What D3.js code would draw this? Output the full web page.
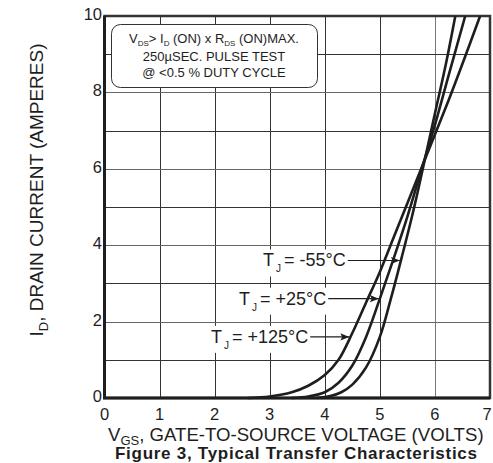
<!DOCTYPE html>
<html>
<head>
<meta charset="utf-8">
<script src="https://cdn.jsdelivr.net/npm/d3@7"></script>
<style>
  body { margin: 0; background: #fff; }
  svg { font-family: Arial, "Liberation Sans", Helvetica, sans-serif; }
</style>
</head>
<body>
<svg id="chart" width="493" height="463"></svg>
<script>
// transfer curves: [VGS (V), ID (A)]
const tjMinus55 = [[3.85,0],[4.1,0.05],[4.3,0.15],[4.5,0.35],[4.75,0.8],[5.0,1.6],[5.2,2.6],[5.4,3.7],[5.6,4.85],[5.78,6.0],[6.0,7.45],[6.2,8.75],[6.37,10]]
const tjPlus25 = [[3.4,0],[3.7,0.04],[4.0,0.15],[4.25,0.4],[4.5,0.85],[4.75,1.6],[5.0,2.6],[5.25,3.65],[5.5,4.75],[5.75,5.95],[6.0,7.15],[6.25,8.45],[6.55,10]]
const tjPlus125 = [[2.6,0],[3.0,0.04],[3.4,0.15],[3.7,0.32],[4.0,0.6],[4.25,1.0],[4.5,1.7],[4.75,2.5],[5.0,3.3],[5.25,4.2],[5.5,5.1],[5.75,6.0],[6.0,6.9],[6.25,7.8],[6.5,8.75],[6.82,10]]

const xTicks = [0, 1, 2, 3, 4, 5, 6, 7]
const yTicks = [0, 2, 4, 6, 8, 10]
const yGrid = [1, 2, 3, 4, 5, 6, 7, 8, 9]

// label text + the current where its arrow meets the curve
const curveLabels = [
  {temp: "-55°C", data: tjMinus55, at: 3.6, textX: 263},
  {temp: "+25°C", data: tjPlus25, at: 2.6, textX: 239},
  {temp: "+125°C", data: tjPlus125, at: 1.6, textX: 211}
]

const noteLines = ["250µSEC. PULSE TEST", "@ <0.5 % DUTY CYCLE"]

const svg = d3.select("#chart")
const ink = "#1e1e1e"

var x = d3.scaleLinear().domain([0, 7]).range([104.5, 490])
var y = d3.scaleLinear().domain([0, 10]).range([398, 16])

// grid
svg.append("g")
  .selectAll("line")
  .data(xTicks.slice(1, -1))
  .join("line")
    .attr("x1", d => Math.round(x(d)) + 0.5).attr("x2", d => Math.round(x(d)) + 0.5)
    .attr("y1", y(10)).attr("y2", y(0))
    .attr("stroke", d => d == 6 ? "#777" : "#333").attr("stroke-width", 1)

svg.append("g")
  .selectAll("line")
  .data(yGrid)
  .join("line")
    .attr("x1", x(0)).attr("x2", x(7))
    .attr("y1", d => Math.round(y(d)) + 0.5).attr("y2", d => Math.round(y(d)) + 0.5)
    .attr("stroke", d => d % 2 == 0 ? "#666" : "#333").attr("stroke-width", 1)

// frame
svg.append("rect")
  .attr("x", x(0)).attr("y", y(10))
  .attr("width", x(7) - x(0)).attr("height", y(0) - y(10))
  .attr("fill", "none").attr("stroke", "#333").attr("stroke-width", 2.5)
svg.append("path")
  .attr("d", `M${x(0)},${y(10)}V${y(0)}H${x(7)}`)
  .attr("fill", "none").attr("stroke", ink).attr("stroke-width", 3)

// tick labels (last one pulled in so it stays on the page)
svg.append("g")
  .selectAll("text")
  .data(xTicks)
  .join("text")
    .attr("x", d => Math.min(x(d), 487)).attr("y", 420)
    .attr("text-anchor", "middle").attr("font-size", 16.5).attr("fill", ink)
    .text(d => d)

svg.append("g")
  .selectAll("text")
  .data(yTicks)
  .join("text")
    .attr("x", 102).attr("y", d => y(d) + 4)
    .attr("text-anchor", "end").attr("font-size", 16.5).attr("fill", ink)
    .text(d => d)

// curves
const line = d3.line()
  .x(d => x(d[0])).y(d => y(d[1]))
  .curve(d3.curveCatmullRom.alpha(0.5))

svg.append("g")
  .selectAll("path")
  .data([tjMinus55, tjPlus25, tjPlus125])
  .join("path")
    .attr("d", line)
    .attr("fill", "none").attr("stroke", ink).attr("stroke-width", 2.6)

// find VGS where a curve reaches the given current
function vAt(data, id) {
  for (let i = 1; i < data.length; i++) {
    if (data[i][1] >= id) {
      const a = data[i - 1], b = data[i]
      return a[0] + (b[0] - a[0]) * (id - a[1]) / (b[1] - a[1])
    }
  }
}

svg.append("defs").append("marker")
  .attr("id", "arrow")
  .attr("viewBox", "0 0 10 10").attr("refX", 10).attr("refY", 5)
  .attr("markerWidth", 14).attr("markerHeight", 9).attr("markerUnits", "userSpaceOnUse")
  .attr("orient", "auto")
  .append("path").attr("d", "M0,1L10,5L0,9L2,5Z").attr("fill", ink)

curveLabels.forEach(l => {
  const g = svg.append("g")
  const ty = y(l.at)
  const t = g.append("text")
    .attr("x", l.textX).attr("y", ty + 6)
    .attr("font-size", 18).attr("fill", ink)
  t.append("tspan").text("T")
  t.append("tspan").attr("font-size", 10).attr("dy", 6).attr("dx", 2).text("J")
  t.append("tspan").attr("dy", -6).attr("dx", 3).text("= " + l.temp)
  const bb = t.node().getBBox()
  g.insert("rect", "text")
    .attr("x", bb.x - 2).attr("y", bb.y - 1)
    .attr("width", bb.width + 4).attr("height", bb.height + 3)
    .attr("fill", "#fff")
  g.append("line")
    .attr("x1", bb.x + bb.width + 2).attr("x2", x(vAt(l.data, l.at)) - 1)
    .attr("y1", ty).attr("y2", ty)
    .attr("stroke", ink).attr("stroke-width", 1.2)
    .attr("marker-end", "url(#arrow)")
})

// note box
svg.append("rect")
  .attr("x", 111.5).attr("y", 24.5).attr("width", 206).attr("height", 63).attr("rx", 9)
  .attr("fill", "#fff").attr("stroke", "#333").attr("stroke-width", 1)

const n1 = svg.append("text")
  .attr("x", 214).attr("y", 43).attr("text-anchor", "middle")
  .attr("font-size", 13).attr("fill", ink)
n1.append("tspan").text("V")
n1.append("tspan").attr("font-size", 8).attr("dy", 3).text("DS")
n1.append("tspan").attr("dy", -3).text("> I")
n1.append("tspan").attr("font-size", 8).attr("dy", 3).text("D")
n1.append("tspan").attr("dy", -3).text(" (ON) x  R")
n1.append("tspan").attr("font-size", 8).attr("dy", 3).text("DS")
n1.append("tspan").attr("dy", -3).text(" (ON)MAX.")

svg.append("g")
  .selectAll("text")
  .data(noteLines)
  .join("text")
    .attr("x", 214).attr("y", (d, i) => 61 + i * 16)
    .attr("text-anchor", "middle").attr("font-size", 13).attr("fill", ink)
    .text(d => d)

// axis titles
const xt = svg.append("text")
  .attr("x", 108).attr("y", 441)
  .attr("font-size", 18.6).attr("fill", ink)
xt.append("tspan").text("V")
xt.append("tspan").attr("font-size", 13).attr("dy", 4).text("GS")
xt.append("tspan").attr("dy", -4).text(", GATE-TO-SOURCE VOLTAGE (VOLTS)")

const yt = svg.append("text")
  .attr("transform", "translate(43,190) rotate(-90)")
  .attr("text-anchor", "middle")
  .attr("font-size", 19).attr("fill", ink)
yt.append("tspan").text("I")
yt.append("tspan").attr("font-size", 13).attr("dy", 5).text("D")
yt.append("tspan").attr("dy", -5).text(", DRAIN CURRENT (AMPERES)")

svg.append("text")
  .attr("x", 115).attr("y", 459)
  .attr("font-size", 17).attr("font-weight", "bold").attr("fill", ink)
  .attr("textLength", 362).attr("lengthAdjust", "spacing")
  .text("Figure 3, Typical Transfer Characteristics")
</script>
</body>
</html>
